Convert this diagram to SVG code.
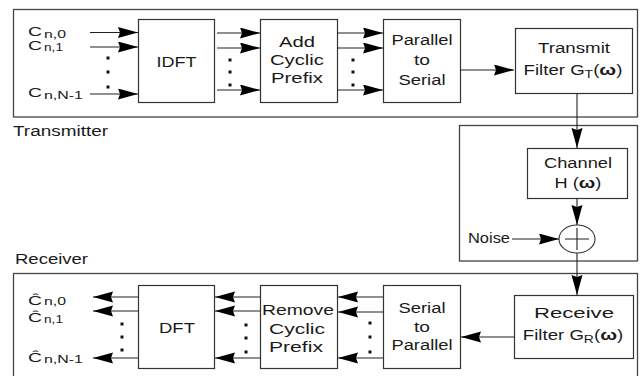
<svg xmlns="http://www.w3.org/2000/svg" width="642" height="376" viewBox="0 0 642 376">
<defs>
<marker id="ah" markerUnits="userSpaceOnUse" markerWidth="22" markerHeight="12" refX="20" refY="5.5" orient="auto"><path d="M0,0 L20,5.5 L0,11 L2,5.5 z" fill="#000"/></marker>
</defs>
<style>
.box{fill:#fff;stroke:#333;stroke-width:1.2}
.outer{fill:none;stroke:#444;stroke-width:1.3}
.ln{fill:none;stroke:#222;stroke-width:1.1}
.ar{fill:none;stroke:#222;stroke-width:1.1;marker-end:url(#ah)}
.t{font-family:"Liberation Sans",Arial,sans-serif;font-size:14px;fill:#1a1a1a}
.cl{font-size:13px}
.s{font-size:10.5px}
.c{text-anchor:middle}
.d{fill:#111}
.w{font-weight:bold;font-size:15px}
</style>
<rect width="642" height="376" fill="#fff"/>

<g id="transmitter">
<rect class="outer" x="13.5" y="9.5" width="624" height="107.5"/>
<text class="t" x="13" y="136" textLength="95" lengthAdjust="spacingAndGlyphs">Transmitter</text>
</g>
<g id="channel-block">
<rect class="outer" x="459.5" y="125.5" width="178" height="135.5"/>
</g>
<g id="receiver">
<rect class="outer" x="13.5" y="273.5" width="624" height="130"/>
<text class="t" x="15" y="264" textLength="73" lengthAdjust="spacingAndGlyphs">Receiver</text>
</g>

<g id="inputs">
<text class="t cl" x="28" y="36" textLength="14" lengthAdjust="spacingAndGlyphs">C</text>
<text class="t s" x="44" y="38" textLength="22" lengthAdjust="spacingAndGlyphs">n,0</text>
<text class="t cl" x="28" y="50" textLength="14" lengthAdjust="spacingAndGlyphs">C</text>
<text class="t s" x="44" y="51" textLength="19" lengthAdjust="spacingAndGlyphs">n,1</text>
<text class="t cl" x="28" y="97" textLength="14" lengthAdjust="spacingAndGlyphs">C</text>
<text class="t s" x="44" y="99" textLength="39" lengthAdjust="spacingAndGlyphs">n,N-1</text>
</g>

<g id="idft">
<rect class="box" x="138.5" y="19.5" width="76" height="83"/>
<text class="t c" x="176.5" y="67" textLength="40" lengthAdjust="spacingAndGlyphs">IDFT</text>
</g>
<g id="add-cp">
<rect class="box" x="260.5" y="19.5" width="77" height="83"/>
<text class="t c" x="297" y="47" textLength="36" lengthAdjust="spacingAndGlyphs">Add</text>
<text class="t c" x="297" y="65" textLength="54" lengthAdjust="spacingAndGlyphs">Cyclic</text>
<text class="t c" x="297" y="83" textLength="52" lengthAdjust="spacingAndGlyphs">Prefix</text>
</g>
<g id="p2s">
<rect class="box" x="383.5" y="19.5" width="77" height="83"/>
<text class="t c" x="422" y="45" textLength="61" lengthAdjust="spacingAndGlyphs">Parallel</text>
<text class="t c" x="422" y="65" textLength="16" lengthAdjust="spacingAndGlyphs">to</text>
<text class="t c" x="422" y="85" textLength="47" lengthAdjust="spacingAndGlyphs">Serial</text>
</g>
<g id="tx-filter">
<rect class="box" x="515.5" y="28.5" width="117" height="65"/>
<text class="t c" x="574" y="53" textLength="72" lengthAdjust="spacingAndGlyphs">Transmit</text>
<text class="t c" transform="translate(573,75) scale(1.33,1)">Filter G<tspan class="s" dy="3">T</tspan><tspan dy="-3">(</tspan><tspan class="w">ω</tspan>)</text>
</g>
<g id="channel">
<rect class="box" x="527.5" y="148.5" width="100" height="50"/>
<text class="t c" x="578" y="168" textLength="68" lengthAdjust="spacingAndGlyphs">Channel</text>
<text class="t c" transform="translate(578,188) scale(1.3,1)">H (<tspan class="w">ω</tspan>)</text>
</g>
<g id="sum">
<ellipse cx="577" cy="239" rx="18" ry="14" fill="#fff" stroke="#333" stroke-width="1.1"/>
<path class="ln" d="M565,239 H589 M577,228 V250"/>
</g>
<g id="noise">
<text class="t" x="468" y="243" textLength="42" lengthAdjust="spacingAndGlyphs">Noise</text>
</g>
<g id="rx-filter">
<rect class="box" x="514.5" y="295.5" width="119" height="63"/>
<text class="t c" x="574" y="318" textLength="80" lengthAdjust="spacingAndGlyphs">Receive</text>
<text class="t c" transform="translate(573,340) scale(1.33,1)">Filter G<tspan class="s" dy="3">R</tspan><tspan dy="-3">(</tspan><tspan class="w">ω</tspan>)</text>
</g>
<g id="s2p">
<rect class="box" x="383.5" y="285.5" width="77" height="83"/>
<text class="t c" x="422" y="313" textLength="47" lengthAdjust="spacingAndGlyphs">Serial</text>
<text class="t c" x="422" y="332" textLength="16" lengthAdjust="spacingAndGlyphs">to</text>
<text class="t c" x="422" y="350" textLength="61" lengthAdjust="spacingAndGlyphs">Parallel</text>
</g>
<g id="remove-cp">
<rect class="box" x="260.5" y="285.5" width="77" height="83"/>
<text class="t c" x="298" y="315" textLength="72" lengthAdjust="spacingAndGlyphs">Remove</text>
<text class="t c" x="297" y="334" textLength="56" lengthAdjust="spacingAndGlyphs">Cyclic</text>
<text class="t c" x="296" y="352" textLength="54" lengthAdjust="spacingAndGlyphs">Prefix</text>
</g>
<g id="dft">
<rect class="box" x="138.5" y="285.5" width="76" height="83"/>
<text class="t c" x="177" y="333" textLength="36" lengthAdjust="spacingAndGlyphs">DFT</text>
</g>
<g id="outputs">
<text class="t cl" x="28" y="305" textLength="14" lengthAdjust="spacingAndGlyphs">Ĉ</text>
<text class="t s" x="44" y="305" textLength="22" lengthAdjust="spacingAndGlyphs">n,0</text>
<text class="t cl" x="28" y="322" textLength="14" lengthAdjust="spacingAndGlyphs">Ĉ</text>
<text class="t s" x="44" y="323" textLength="19" lengthAdjust="spacingAndGlyphs">n,1</text>
<text class="t cl" x="28" y="362" textLength="14" lengthAdjust="spacingAndGlyphs">Ĉ</text>
<text class="t s" x="44" y="363" textLength="39" lengthAdjust="spacingAndGlyphs">n,N-1</text>
</g>

<g id="connectors">
<path class="ar" d="M90,32.5 H138"/>
<path class="ar" d="M90,47 H138"/>
<path class="ar" d="M90,94 H138"/>
<path class="ar" d="M217,33 H260"/>
<path class="ar" d="M217,48 H260"/>
<path class="ar" d="M217,90 H260"/>
<path class="ar" d="M337,33 H383"/>
<path class="ar" d="M337,48 H383"/>
<path class="ar" d="M337,90 H383"/>
<path class="ar" d="M460,70 H514"/>
<path class="ar" d="M577,93 V148"/>
<path class="ar" d="M577,198 V225"/>
<path class="ar" d="M512,239 H559"/>
<path class="ar" d="M577,253 V295"/>
<path class="ar" d="M514,337 H461"/>
<path class="ar" d="M383,297 H338"/>
<path class="ar" d="M383,312 H338"/>
<path class="ar" d="M383,358 H338"/>
<path class="ar" d="M260,297 H215"/>
<path class="ar" d="M260,311 H215"/>
<path class="ar" d="M260,358 H215"/>
<path class="ar" d="M138,297 H93"/>
<path class="ar" d="M138,311 H93"/>
<path class="ar" d="M138,358 H93"/>
</g>

<g id="dots" class="d">
<rect x="106.5" y="56.5" width="3" height="3"/><rect x="106.5" y="70.5" width="3" height="3"/><rect x="106.5" y="85.5" width="3" height="3"/>
<rect x="228.5" y="58.5" width="3" height="3"/><rect x="228.5" y="70.5" width="3" height="3"/><rect x="228.5" y="83.5" width="3" height="3"/>
<rect x="351.5" y="58.5" width="3" height="3"/><rect x="351.5" y="70.5" width="3" height="3"/><rect x="351.5" y="83.5" width="3" height="3"/>
<rect x="368.5" y="321.5" width="3" height="3"/><rect x="368.5" y="335.5" width="3" height="3"/><rect x="368.5" y="350.5" width="3" height="3"/>
<rect x="244.5" y="323.5" width="3" height="3"/><rect x="244.5" y="336.5" width="3" height="3"/><rect x="244.5" y="350.5" width="3" height="3"/>
<rect x="120.5" y="322.5" width="3" height="3"/><rect x="120.5" y="335.5" width="3" height="3"/><rect x="120.5" y="348.5" width="3" height="3"/>
</g>
</svg>
